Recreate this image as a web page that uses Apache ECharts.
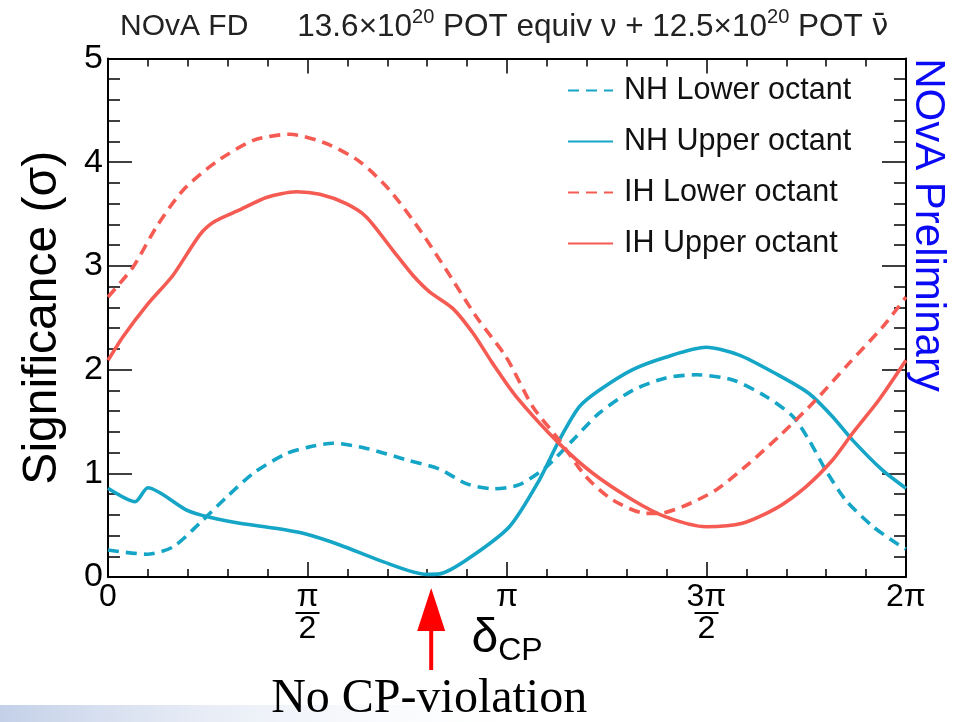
<!DOCTYPE html>
<html><head><meta charset="utf-8">
<script src="https://cdn.jsdelivr.net/npm/echarts@6/dist/echarts.min.js"></script>
<style>html,body{margin:0;padding:0;background:#fff}#c{width:968px;height:722px}</style>
</head><body><div id="c"></div>
<script>
// x values are in units of pi (delta_CP / pi)
const nhLowerX = [0, 0.097, 0.163, 0.23, 0.297, 0.364, 0.447, 0.50, 0.564, 0.648, 0.748, 0.831, 0.898, 0.966, 1.031, 1.098, 1.165, 1.231, 1.315, 1.398, 1.474, 1.566, 1.649, 1.716, 1.757, 1.799, 1.849, 1.916, 1.974, 2.0];
const nhLowerY = [0.26, 0.22, 0.29, 0.52, 0.77, 1.00, 1.19, 1.25, 1.29, 1.24, 1.13, 1.04, 0.90, 0.85, 0.89, 1.06, 1.32, 1.58, 1.80, 1.92, 1.95, 1.90, 1.74, 1.55, 1.32, 1.03, 0.74, 0.49, 0.33, 0.27];

const nhUpperX = [0, 0.068, 0.1, 0.197, 0.255, 0.33, 0.42, 0.489, 0.581, 0.689, 0.798, 0.831, 0.898, 1.006, 1.081, 1.131, 1.181, 1.231, 1.315, 1.398, 1.499, 1.582, 1.674, 1.757, 1.816, 1.866, 1.941, 2.0];
const nhUpperY = [0.855, 0.726, 0.861, 0.646, 0.576, 0.518, 0.47, 0.421, 0.309, 0.148, 0.025, 0.03, 0.164, 0.485, 0.935, 1.32, 1.64, 1.80, 2.00, 2.12, 2.215, 2.14, 1.96, 1.77, 1.546, 1.32, 1.03, 0.855];

const ihLowerX = [0, 0.063, 0.122, 0.188, 0.272, 0.364, 0.456, 0.547, 0.631, 0.706, 0.781, 0.848, 0.923, 0.998, 1.065, 1.131, 1.198, 1.265, 1.348, 1.382, 1.44, 1.524, 1.607, 1.69, 1.774, 1.857, 1.941, 2.0];
const ihLowerY = [2.70, 2.99, 3.38, 3.73, 4.005, 4.21, 4.27, 4.18, 4.005, 3.73, 3.35, 2.96, 2.51, 2.12, 1.64, 1.32, 0.967, 0.743, 0.614, 0.614, 0.678, 0.839, 1.096, 1.386, 1.707, 2.06, 2.41, 2.70];

const ihUpperX = [0, 0.038, 0.097, 0.163, 0.23, 0.268, 0.33, 0.397, 0.472, 0.531, 0.597, 0.648, 0.714, 0.764, 0.806, 0.864, 0.915, 0.964, 1.023, 1.131, 1.215, 1.315, 1.398, 1.499, 1.59, 1.674, 1.749, 1.816, 1.866, 1.932, 2.0];
const ihUpperY = [2.09, 2.32, 2.62, 2.91, 3.30, 3.43, 3.54, 3.66, 3.715, 3.69, 3.60, 3.47, 3.15, 2.91, 2.75, 2.59, 2.35, 2.06, 1.74, 1.286, 1.0, 0.743, 0.58, 0.485, 0.518, 0.662, 0.87, 1.128, 1.386, 1.707, 2.09];

const seriesNames = ['NH Lower octant', 'NH Upper octant', 'IH Lower octant', 'IH Upper octant'];
const xTickValues = [0, 0.5, 1, 1.5, 2];
const xTickLabels = ['0', 'π/2', 'π', '3π/2', '2π'];
const noCPX = 0.81; // position of the "No CP-violation" arrow (units of pi)

const FONT = 'Liberation Sans, Arial, Helvetica, sans-serif';
const CYAN = '#15a5c6', RED = '#f55b52';

function pairs(xs, ys) { return xs.map((x, i) => [x, ys[i]]); }
function fmtX(v) {
  const i = xTickValues.findIndex(t => Math.abs(t - v) < 1e-6);
  if (i < 0) return '';
  const s = xTickLabels[i];
  if (s.indexOf('/') >= 0) {
    const p = s.split('/');
    return '{n|' + p[0] + '}\n{bar|}\n{n|' + p[1] + '}';
  }
  return '{n|' + s + '}';
}

const axisLine = { show: true, onZero: false, lineStyle: { color: '#000', width: 2 } };
const tickStyle = { color: '#000', width: 1.5 };
function xAx(pos, labels) {
  return {
    type: 'value', min: 0, max: 2, interval: 0.5, position: pos,
    axisLine: axisLine,
    axisTick: { show: true, inside: true, length: 15, lineStyle: tickStyle },
    minorTick: { show: true, splitNumber: 5, length: 8, lineStyle: tickStyle },
    splitLine: { show: false }, minorSplitLine: { show: false },
    axisLabel: labels ? {
      formatter: fmtX, margin: 6,
      rich: {
        n: { fontSize: 32, fontFamily: FONT, color: '#000', lineHeight: 28, align: 'center' },
        bar: { width: 24, height: 2, lineHeight: 4, backgroundColor: '#000', align: 'center' }
      }
    } : { show: false },
    name: labels ? '{d|δ}{s|CP}' : '',
    nameLocation: 'middle', nameGap: 34, nameMoveOverlap: false,
    nameTextStyle: {
      verticalAlign: 'top',
      rich: {
        d: { fontSize: 48, fontFamily: FONT, color: '#000', lineHeight: 50 },
        s: { fontSize: 32, fontFamily: FONT, color: '#000', padding: [24, 0, 0, 0] }
      }
    }
  };
}
function yAx(pos, labels) {
  return {
    type: 'value', min: 0, max: 5, interval: 1, position: pos,
    axisLine: axisLine,
    axisTick: { show: true, inside: true, length: 24, lineStyle: tickStyle },
    minorTick: { show: true, splitNumber: 5, length: 12, lineStyle: tickStyle },
    splitLine: { show: false }, minorSplitLine: { show: false },
    axisLabel: labels ? { fontSize: 34, margin: 5, color: '#000', fontFamily: FONT } : { show: false },
    name: labels ? 'Significance (σ)' : '',
    nameLocation: 'middle', nameGap: 41, nameRotate: 90, nameMoveOverlap: false,
    nameTextStyle: { fontSize: 48, fontFamily: FONT, color: '#000' }
  };
}
function line(name, xs, ys, color, dashed) {
  return {
    name: name, type: 'line', data: pairs(xs, ys),
    showSymbol: false, symbol: 'none', smooth: 0.25,
    lineStyle: { color: color, width: 3.6, type: dashed ? [11, 7] : 'solid' },
    itemStyle: { color: color }
  };
}

const chart = echarts.init(document.getElementById('c'), null, { renderer: 'canvas' });
const option = {
  animation: false,
  backgroundColor: '#fff',
  grid: { left: 108, right: 62, top: 58.5, bottom: 145, containLabel: false },
  title: {
    text: '{a|NOvA FD}{g|}{b|13.6×10}{s|20}{b| POT equiv ν + 12.5×10}{s|20}{b| POT }{v|ν\u0304}',
    left: 120, top: 7, padding: 0,
    textStyle: {
      fontWeight: 'normal',
      rich: {
        a: { fontSize: 30, fontFamily: FONT, color: '#222', fontWeight: 'normal' },
        b: { fontSize: 31.5, fontFamily: FONT, color: '#222', fontWeight: 'normal' },
        v: { fontSize: 30, fontFamily: 'DejaVu Sans, Liberation Sans, sans-serif', color: '#222', fontWeight: 'normal' },
        g: { width: 49 },
        s: { fontSize: 20, fontFamily: FONT, color: '#222', fontWeight: 'normal', padding: [0, 0, 20, 0] }
      }
    }
  },
  legend: {
    orient: 'vertical', left: 567, top: 75, padding: 0,
    itemWidth: 45, itemHeight: 14, itemGap: 20,
    data: seriesNames,
    itemStyle: { opacity: 0 },
    textStyle: { fontSize: 30.5, fontFamily: FONT, color: '#111', lineHeight: 30, padding: [0, 0, 0, 6] }
  },
  xAxis: [xAx('bottom', true), xAx('top', false)],
  yAxis: [yAx('left', true), yAx('right', false)],
  series: [
    line(seriesNames[0], nhLowerX, nhLowerY, CYAN, true),
    line(seriesNames[1], nhUpperX, nhUpperY, CYAN, false),
    line(seriesNames[2], ihLowerX, ihLowerY, RED, true),
    line(seriesNames[3], ihUpperX, ihUpperY, RED, false)
  ]
};
chart.setOption(option);

const ax = chart.convertToPixel({ xAxisIndex: 0 }, noCPX);
chart.setOption({
  graphic: [
    { id: 'band', type: 'rect', z: -1, shape: { x: 0, y: 705, width: 560, height: 17 },
      style: { fill: new echarts.graphic.LinearGradient(0, 0, 1, 0, [
        { offset: 0, color: 'rgba(185,200,228,0.85)' }, { offset: 1, color: 'rgba(255,255,255,0)' }]) } },
    { id: 'prelim', type: 'text', x: 928, y: 225, rotation: -Math.PI / 2,
      style: { text: 'NOvA Preliminary', fontSize: 42, fontFamily: FONT, fill: '#0a0af5', align: 'center', verticalAlign: 'middle' } },
    { id: 'shaft', type: 'rect', shape: { x: ax - 2, y: 626, width: 4, height: 44 }, style: { fill: '#ff0000' } },
    { id: 'head', type: 'polygon', shape: { points: [[ax, 588], [ax - 14, 631], [ax + 14, 631]] }, style: { fill: '#ff0000' } },
    { id: 'nocp', type: 'text', x: ax - 2, y: 699,
      style: { text: 'No CP-violation', fontSize: 48, fontFamily: 'Liberation Serif, Times New Roman, serif', fill: '#000', align: 'center', verticalAlign: 'middle' } }
  ]
});
</script>
</body></html>
